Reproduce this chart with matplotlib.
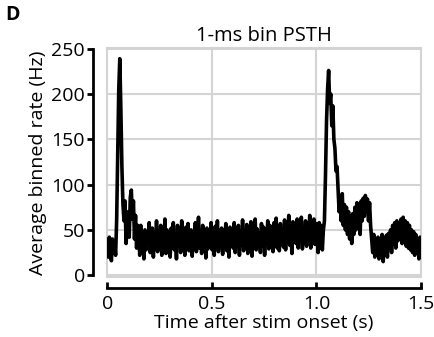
import numpy as np
import matplotlib
matplotlib.use("Agg")
import matplotlib.pyplot as plt
import matplotlib.patches as patches

plt.rcParams['font.family'] = ['Open Sans', 'DejaVu Sans']

# PSTH, 5-ms steps (300 values, 0 - 1.5 s)
rate = [
    38, 20, 42, 28, 16, 40, 25, 36, 22, 60,
    130, 205, 239, 185, 120, 78, 60, 82, 35, 58,
    70, 42, 86, 94, 62, 82, 40, 66, 30, 55,
    48, 22, 55, 30, 42, 18, 50, 28, 45, 35,
    58, 25, 40, 52, 20, 47, 30, 60, 26, 44,
    38, 55, 22, 48, 30, 62, 24, 50, 33, 45,
    20, 52, 36, 58, 28, 42, 18, 55, 32, 48,
    25, 60, 30, 45, 22, 53, 38, 57, 27, 43,
    50, 21, 47, 34, 58, 26, 41, 64, 30, 46,
    24, 55, 37, 49, 19, 52, 29, 44, 35, 58,
    28, 46, 22, 54, 33, 60, 26, 48, 38, 52,
    23, 50, 31, 57, 27, 44, 20, 53, 36, 47,
    30, 58, 25, 46, 39, 55, 22, 49, 33, 61,
    27, 45, 35, 56, 24, 50, 30, 59, 21, 48,
    34, 62, 28, 51, 37, 46, 25, 57, 32, 53,
    22, 49, 38, 60, 29, 55, 33, 47, 26, 58,
    36, 63, 30, 52, 27, 57, 40, 49, 31, 61,
    28, 55, 37, 66, 33, 50, 24, 59, 38, 54,
    35, 62, 30, 57, 41, 64, 29, 52, 36, 60,
    32, 58, 40, 66, 30, 55, 43, 62, 34, 57,
    45, 25, 58, 30, 55, 28, 50, 60, 110, 170,
    205, 226, 190, 200, 165, 187, 150, 140, 115, 120,
    95, 70, 85, 60, 90, 55, 78, 50, 75, 45,
    70, 40, 65, 35, 68, 45, 75, 50, 80, 55,
    78, 45, 82, 60, 85, 65, 88, 70, 84, 60,
    80, 55, 40, 25, 45, 20, 38, 30, 42, 18,
    40, 22, 45, 15, 38, 28, 44, 20, 46, 30,
    50, 25, 55, 35, 58, 30, 60, 38, 57, 40,
    62, 35, 64, 40, 60, 32, 58, 30, 55, 28,
    50, 25, 48, 22, 45, 30, 40, 18, 42, 25,
]
t = np.linspace(0, 1.5, len(rate))

xticks = [0, 0.5, 1.0, 1.5]
xticklabels = ['0', '0.5', '1.0', '1.5']
yticks = [0, 50, 100, 150, 200, 250]

fig = plt.figure(figsize=(4.34, 3.37), dpi=100)
ax = fig.add_axes([0.247, 0.178, 0.723, 0.68])

ax.plot(t, rate, color='black', lw=2.6)

ax.set_xlim(0, 1.5)
ax.set_ylim(-2, 251)
ax.set_xticks(xticks)
ax.set_xticklabels(xticklabels)
ax.set_yticks(yticks)
ax.grid(True, color='#d4d4d4', lw=1.5)
ax.set_axisbelow(True)

# light frame around plot area
ax.add_patch(patches.Rectangle((0, 0), 1, 1, transform=ax.transAxes, fill=False,
                               edgecolor='#d4d4d4', lw=1.5, clip_on=False, zorder=0))

for s in ['top', 'right']:
    ax.spines[s].set_visible(False)
ax.spines['left'].set_position(('outward', 10))
ax.spines['bottom'].set_position(('outward', 8))
ax.spines['left'].set_linewidth(2)
ax.spines['bottom'].set_linewidth(2)
ax.spines['left'].set_bounds(0, 250)
ax.tick_params(axis='both', labelsize=14, width=2, length=4)
ax.tick_params(axis='y', pad=2)
ax.tick_params(axis='x', direction='in', pad=5)

ax.set_title('1-ms bin PSTH', fontsize=14.5, pad=5)
ax.set_xlabel('Time after stim onset (s)', fontsize=14, labelpad=1)
ax.set_ylabel('Average binned rate (Hz)', fontsize=14, labelpad=3)
fig.text(0.012, 0.94, 'D', fontsize=14, fontweight='bold')

fig.savefig('out.png', dpi=100)
